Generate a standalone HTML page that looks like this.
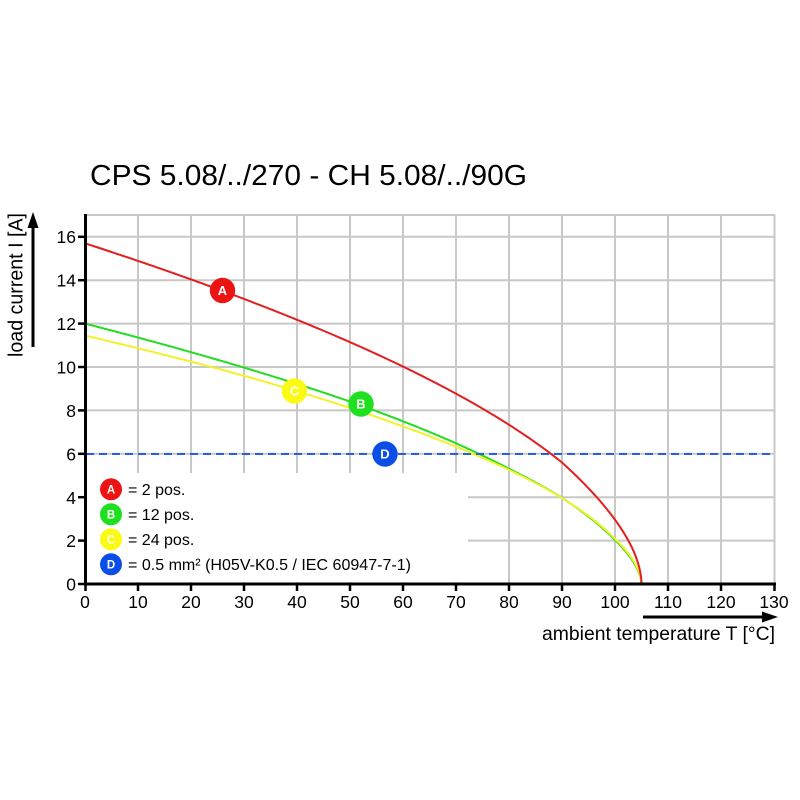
<!DOCTYPE html>
<html><head><meta charset="utf-8"><style>
html,body{margin:0;padding:0;background:#fff;}
svg{display:block;}
text{font-family:"Liberation Sans",Arial,sans-serif;fill:#000;}
</style></head><body>
<svg width="800" height="800" viewBox="0 0 800 800" xmlns="http://www.w3.org/2000/svg">
<rect width="800" height="800" fill="#fff"/>
<text x="90" y="185" font-size="29" textLength="437" lengthAdjust="spacingAndGlyphs">CPS 5.08/../270 - CH 5.08/../90G</text>
<g stroke="#c8c8c8" stroke-width="2" fill="none">
<line x1="138" y1="215" x2="138" y2="584"/><line x1="191" y1="215" x2="191" y2="584"/><line x1="244" y1="215" x2="244" y2="584"/><line x1="297" y1="215" x2="297" y2="584"/><line x1="350" y1="215" x2="350" y2="584"/><line x1="403" y1="215" x2="403" y2="584"/><line x1="456" y1="215" x2="456" y2="584"/><line x1="509" y1="215" x2="509" y2="584"/><line x1="562" y1="215" x2="562" y2="584"/><line x1="615" y1="215" x2="615" y2="584"/><line x1="668" y1="215" x2="668" y2="584"/><line x1="721" y1="215" x2="721" y2="584"/><line x1="774.5" y1="215" x2="774.5" y2="584"/>
<line x1="85" y1="215" x2="775" y2="215"/><line x1="85" y1="236.8" x2="775" y2="236.8"/><line x1="85" y1="280.2" x2="775" y2="280.2"/><line x1="85" y1="323.6" x2="775" y2="323.6"/><line x1="85" y1="367" x2="775" y2="367"/><line x1="85" y1="410.4" x2="775" y2="410.4"/><line x1="85" y1="453.8" x2="775" y2="453.8"/><line x1="85" y1="497.2" x2="775" y2="497.2"/><line x1="85" y1="540.6" x2="775" y2="540.6"/>
</g>
<rect x="87" y="473" width="381" height="109" fill="#fff"/>
<g fill="none" stroke-width="2" stroke-linejoin="round" stroke-linecap="round">
<polyline id="cg" stroke="#22dd22" points="85,323.6 138,337.6 191,352.2 244,367.6 297,384 350,401.5 403,421.3 456,443.2 509,469.1 535.5,482.8 562,497.3 588.5,516.6 604.4,529.9 615,540 625.6,551.5 630.9,558.3 636.2,566.9 638.85,572.6 640.44,577.3 641.5,584"/>
<polyline id="cy" stroke="#f2f22a" points="85,335.5 138,348.3 191,361.6 244,375.8 297,391.3 350,408 403,426.3 456,446.7 509,469.9 535.5,483 562,498 588.5,515.8 604.4,528.7 615,538.8 625.6,550.1 630.9,557 636.2,565.7 638.85,571.6 640.44,576.6 641.5,584"/>
<polyline id="cr" stroke="#e41e1e" points="85,243.3 138,260.9 191,279.4 244,298.9 297,319.7 350,342.1 403,366.6 456,393.7 509,424.7 535.5,442.5 562,462.5 588.5,488.3 604.4,506.1 615,519.7 625.6,535.8 630.9,545.4 636.2,557.7 638.85,566 640.44,573.1 641.5,584"/>
</g>
<line x1="86" y1="454" x2="775" y2="454" stroke="#2a5fdc" stroke-width="2" stroke-dasharray="8,5"/>
<g stroke="#000" stroke-width="3" fill="none">
<line x1="85.5" y1="214" x2="85.5" y2="585.5"/>
<line x1="84" y1="584" x2="776" y2="584"/>
</g>
<g stroke="#000" stroke-width="2.5">
<line x1="78" y1="236.8" x2="86" y2="236.8"/><line x1="78" y1="280.2" x2="86" y2="280.2"/><line x1="78" y1="323.6" x2="86" y2="323.6"/><line x1="78" y1="367" x2="86" y2="367"/><line x1="78" y1="410.4" x2="86" y2="410.4"/><line x1="78" y1="453.8" x2="86" y2="453.8"/><line x1="78" y1="497.2" x2="86" y2="497.2"/><line x1="78" y1="540.6" x2="86" y2="540.6"/><line x1="78" y1="584" x2="86" y2="584"/>
<line x1="85.5" y1="584" x2="85.5" y2="591"/><line x1="138" y1="584" x2="138" y2="591"/><line x1="191" y1="584" x2="191" y2="591"/><line x1="244" y1="584" x2="244" y2="591"/><line x1="297" y1="584" x2="297" y2="591"/><line x1="350" y1="584" x2="350" y2="591"/><line x1="403" y1="584" x2="403" y2="591"/><line x1="456" y1="584" x2="456" y2="591"/><line x1="509" y1="584" x2="509" y2="591"/><line x1="562" y1="584" x2="562" y2="591"/><line x1="615" y1="584" x2="615" y2="591"/><line x1="668" y1="584" x2="668" y2="591"/><line x1="721" y1="584" x2="721" y2="591"/><line x1="774.5" y1="584" x2="774.5" y2="591"/>
</g>
<g font-size="17.5" text-anchor="end">
<text x="76" y="243">16</text><text x="76" y="286.5">14</text><text x="76" y="330">12</text><text x="76" y="373.5">10</text><text x="76" y="417">8</text><text x="76" y="460.5">6</text><text x="76" y="504">4</text><text x="76" y="547">2</text><text x="76" y="590.5">0</text>
</g>
<g font-size="17.5" text-anchor="middle">
<text x="85" y="608">0</text><text x="138" y="608">10</text><text x="191" y="608">20</text><text x="244" y="608">30</text><text x="297" y="608">40</text><text x="350" y="608">50</text><text x="403" y="608">60</text><text x="456" y="608">70</text><text x="509" y="608">80</text><text x="562" y="608">90</text><text x="615" y="608">100</text><text x="668" y="608">110</text><text x="721" y="608">120</text><text x="774" y="608">130</text>
</g>
<text x="542" y="640" font-size="19.5" textLength="233" lengthAdjust="spacingAndGlyphs">ambient temperature T [°C]</text>
<line x1="643" y1="617" x2="764" y2="617" stroke="#000" stroke-width="3"/>
<polygon points="778,617 762,611.5 762,622.5" fill="#000"/>
<text transform="translate(22.5,357) rotate(-90)" font-size="20" textLength="144" lengthAdjust="spacingAndGlyphs">load current I [A]</text>
<line x1="33" y1="347" x2="33" y2="226" stroke="#000" stroke-width="3"/>
<polygon points="33,212 27.5,228 38.5,228" fill="#000"/>
<g font-weight="bold" text-anchor="middle" font-size="13">
<circle cx="222.5" cy="290.5" r="12.7" fill="#ec1313"/><text x="222.5" y="295.2" style="fill:#fff">A</text>
<circle cx="361" cy="404" r="12.7" fill="#1ee01e"/><text x="361" y="408.7" style="fill:#fff">B</text>
<circle cx="294.5" cy="391" r="12.7" fill="#fafa14"/><text x="294.5" y="395.7" style="fill:#fff">C</text>
<circle cx="385" cy="454" r="12.7" fill="#0a4ee6"/><text x="385" y="458.7" style="fill:#fff">D</text>
</g>
<g font-weight="bold" text-anchor="middle" font-size="11.5">
<circle cx="111" cy="489.3" r="11" fill="#ec1313"/><text x="111" y="493.5" style="fill:#fff">A</text>
<circle cx="111" cy="514.3" r="11" fill="#1ee01e"/><text x="111" y="518.5" style="fill:#fff">B</text>
<circle cx="111" cy="539.3" r="11" fill="#fafa14"/><text x="111" y="543.5" style="fill:#fff">C</text>
<circle cx="111" cy="564.3" r="11" fill="#0a4ee6"/><text x="111" y="568.5" style="fill:#fff">D</text>
</g>
<g font-size="16">
<text x="128" y="495">= 2 pos.</text>
<text x="128" y="520">= 12 pos.</text>
<text x="128" y="545">= 24 pos.</text>
<text x="128" y="570" textLength="283" lengthAdjust="spacingAndGlyphs">= 0.5 mm² (H05V-K0.5 / IEC 60947-7-1)</text>
</g>
</svg>
<script>
(function(){
function interp(a,T){for(var i=0;i+1<a.length;i++){if(T<=a[i+1][0]){var t=(T-a[i][0])/(a[i+1][0]-a[i][0]);return a[i][1]+t*(a[i+1][1]-a[i][1]);}}return a[a.length-1][1];}
function build(id,I0,anch){var Ts=[],pts=[],T;for(T=0;T<100;T+=0.5)Ts.push(T);for(T=100;T<105;T+=0.05)Ts.push(T);Ts.push(105);
for(var k=0;k!==Ts.length;k++){T=Ts[k];var u=(105-T)/105;var I=(u<=0)?0:I0*Math.pow(u,interp(anch,T));pts.push((85+5.3*T).toFixed(2)+","+(584-21.7*I).toFixed(2));}
var el=document.getElementById(id);if(el)el.setAttribute("points",pts.join(" "));}
try{
build("cr",15.7,[[0,0.53],[90,0.53],[95,0.54],[98,0.545],[100,0.548],[102,0.55],[105,0.55]]);
build("cg",12,[[0,0.55],[50,0.55],[60,0.555],[70,0.56],[80,0.568],[90,0.568],[95,0.575],[98,0.58],[100,0.584],[105,0.585]]);
build("cy",11.45,[[0,0.525],[30,0.525],[40,0.53],[50,0.533],[60,0.537],[70,0.54],[80,0.542],[90,0.545],[95,0.55],[98,0.555],[100,0.56],[105,0.56]]);
}catch(e){}
})();
</script>
</body></html>
